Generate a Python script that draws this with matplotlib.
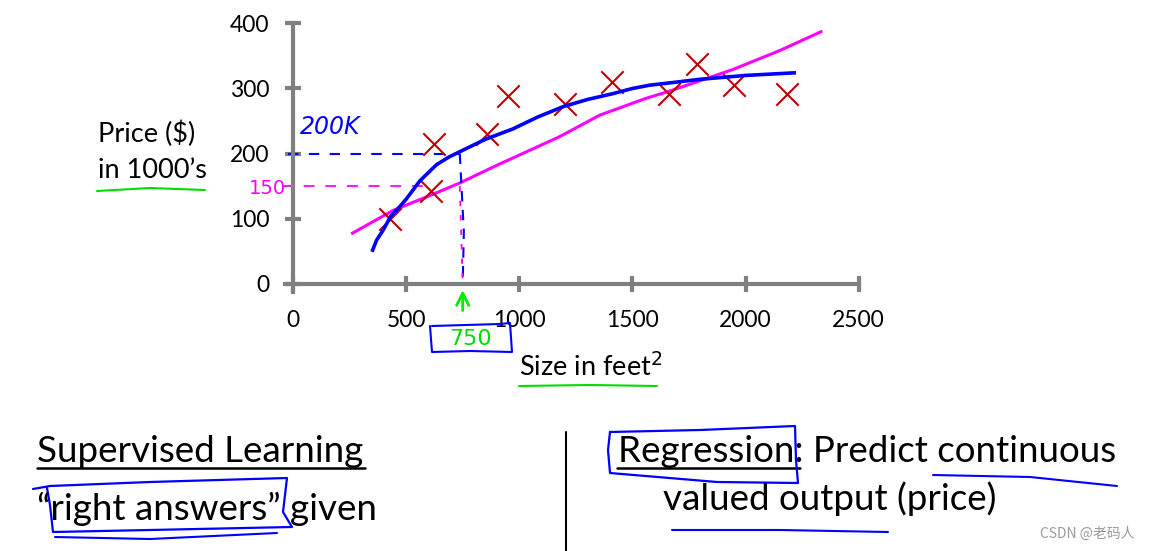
import numpy as np
import matplotlib
matplotlib.use("Agg")
import matplotlib.pyplot as plt

# Data
size_sqft = [430, 610, 625, 857, 950, 1200, 1410, 1660, 1785, 1947, 2183]
price_k = [100, 143, 215, 230, 288, 276, 310, 291, 337, 306, 291]

# hand-drawn fits
curve_x = [352, 369, 399, 432, 470, 502, 560, 634, 690, 737, 850, 972, 1080, 1193, 1300, 1413, 1500,
           1575, 1700, 1796, 2000, 2215]
curve_y = [52, 67, 83, 104, 118, 131, 158, 183, 195, 203, 222, 238, 256, 272, 283, 292, 300,
           305, 310, 314, 320, 324]
line_x = [263, 443, 600, 737, 900, 1178, 1355, 1561, 1656, 1800, 1943, 2150, 2333]
line_y = [78, 113, 135, 155, 182, 226, 259, 285, 295, 312, 329, 358, 387]

x_ticks = [0, 500, 1000, 1500, 2000, 2500]
y_ticks = [0, 100, 200, 300, 400]

query_size = 750
pred_curve = 200
pred_line = 150

plt.rcParams['font.family'] = ['Lato', 'DejaVu Sans']

W, H = 1151, 551
fig = plt.figure(figsize=(W / 100, H / 100), dpi=100)

def px(x, y):
    return (x / W, 1 - y / H)

ax = fig.add_axes([293 / W, 1 - 284 / H, (858.7 - 293) / W, (284 - 23.3) / H])
ax.set_xlim(0, 2500)
ax.set_ylim(0, 400)
ax.patch.set_alpha(0)
for s in ['top', 'right']:
    ax.spines[s].set_visible(False)
ax.spines['left'].set_bounds(-12, 400)
ax.spines['bottom'].set_bounds(-35, 2500)
for s in ['left', 'bottom']:
    ax.spines[s].set_color('#808080')
    ax.spines[s].set_linewidth(3)
ax.set_xticks(x_ticks)
ax.set_yticks(y_ticks)
ax.tick_params(direction='inout', length=12, width=3, color='#808080', labelsize=16.5)
ax.tick_params(axis='x', pad=13)
ax.tick_params(axis='y', pad=11)

# red crosses
ax.scatter(size_sqft, price_k, marker='x', s=260, color='#c00000', linewidths=1.5, clip_on=False, zorder=3)
# fits
ax.plot(line_x, line_y, color='#ff00ff', lw=2.2, clip_on=False, zorder=2)
ax.plot(curve_x, curve_y, color='#0000ff', lw=2.6, clip_on=False, zorder=4)

# dashed reading lines
ax.plot([-20, query_size - 13], [pred_curve, pred_curve], color='#0000ff', lw=1.5, ls=(0, (5, 5)), clip_on=False)
ax.plot([query_size - 13, query_size + 5, query_size], [pred_curve, 80, 0], color='#0000ff', lw=1.5,
        ls=(0, (5, 4)), clip_on=False)
ax.plot([-50, 605], [pred_line, pred_line], color='#ff00ff', lw=1.3, ls=(0, (6, 6)), clip_on=False)
ax.plot([query_size - 13, query_size - 5, query_size], [pred_line, 60, 0], color='#ff00ff', lw=1.3,
        ls=(0, (3, 5)), clip_on=False)

# green arrow at 750
ax.annotate('', xy=(query_size, -5), xytext=(query_size, -45), xycoords='data',
            arrowprops=dict(arrowstyle='->', color='#00ee00', lw=2, mutation_scale=22), annotation_clip=False)

# handwritten labels
ax.text(30, 241, '200K', color='#0000ff', fontsize=17, family='DejaVu Sans', style='italic',
        ha='left', va='center', clip_on=False)
ax.text(-30, pred_line - 4, '150', color='#ff00ff', fontsize=14, family='DejaVu Sans', ha='right',
        va='center', clip_on=False)

# axis titles
fig.text(*px(98, 134), 'Price ($)', fontsize=19.5, ha='left', va='center')
fig.text(*px(98, 170), 'in 1000\u2019s', fontsize=19.5, ha='left', va='center')
fig.text(*px(519, 367), 'Size in feet$^2$', fontsize=19.5, ha='left', va='center')
fig.text(*px(470, 339), '750', color='#00dd00', fontsize=16, family='DejaVu Sans', ha='center', va='center')

def pen(xs, ys, color, lw=1.6):
    fig.add_artist(plt.Line2D([x / W for x in xs], [1 - y / H for y in ys], color=color, lw=lw,
                              solid_capstyle='round', solid_joinstyle='round'))

pen([97, 150, 205], [191, 188, 190], '#00dd00', 1.5)
pen([519, 590, 657], [386, 385, 386], '#00dd00', 1.5)
pen([432, 500, 510, 512, 470, 432, 430], [326, 324, 323, 352, 351, 352, 326], '#0000ff', 1.5)

# bottom text
fig.text(*px(37, 452), 'Supervised Learning', fontsize=26.5, ha='left', va='center')
pen([37, 365], [468, 468], 'black', 1.8)
fig.text(*px(37, 509), '\u201cright answers\u201d given', fontsize=26.5, ha='left', va='center')
pen([33, 50, 150, 287, 283, 292, 150, 53, 50, 47], [489, 486, 482, 478, 512, 527, 530, 532, 505, 488],
    '#0000ff', 1.6)
pen([55, 150, 277], [537, 539, 533], '#0000ff', 1.5)

pen([566, 566], [432, 551], 'black', 1.5)

fig.text(*px(618, 452), 'Regression: Predict continuous', fontsize=26.5, ha='left', va='center')
pen([617, 800], [468, 468], 'black', 1.8)
fig.text(*px(663, 499), 'valued output (price)', fontsize=26.5, ha='left', va='center')
pen([610, 700, 795, 796, 798, 717, 610, 608, 610], [432, 430, 426, 460, 483, 482, 473, 450, 432],
    '#0000ff', 1.6)
pen([933, 1030, 1117], [475, 477, 486], '#0000ff', 1.5)
pen([672, 780, 888], [530, 530, 532], '#0000ff', 1.5)

fig.text(*px(1135, 534), 'CSDN @老码人', fontsize=10, color='#999999', ha='right', va='center',
         family=['Noto Sans CJK SC', 'DejaVu Sans'])

fig.savefig('out.png', dpi=100)
